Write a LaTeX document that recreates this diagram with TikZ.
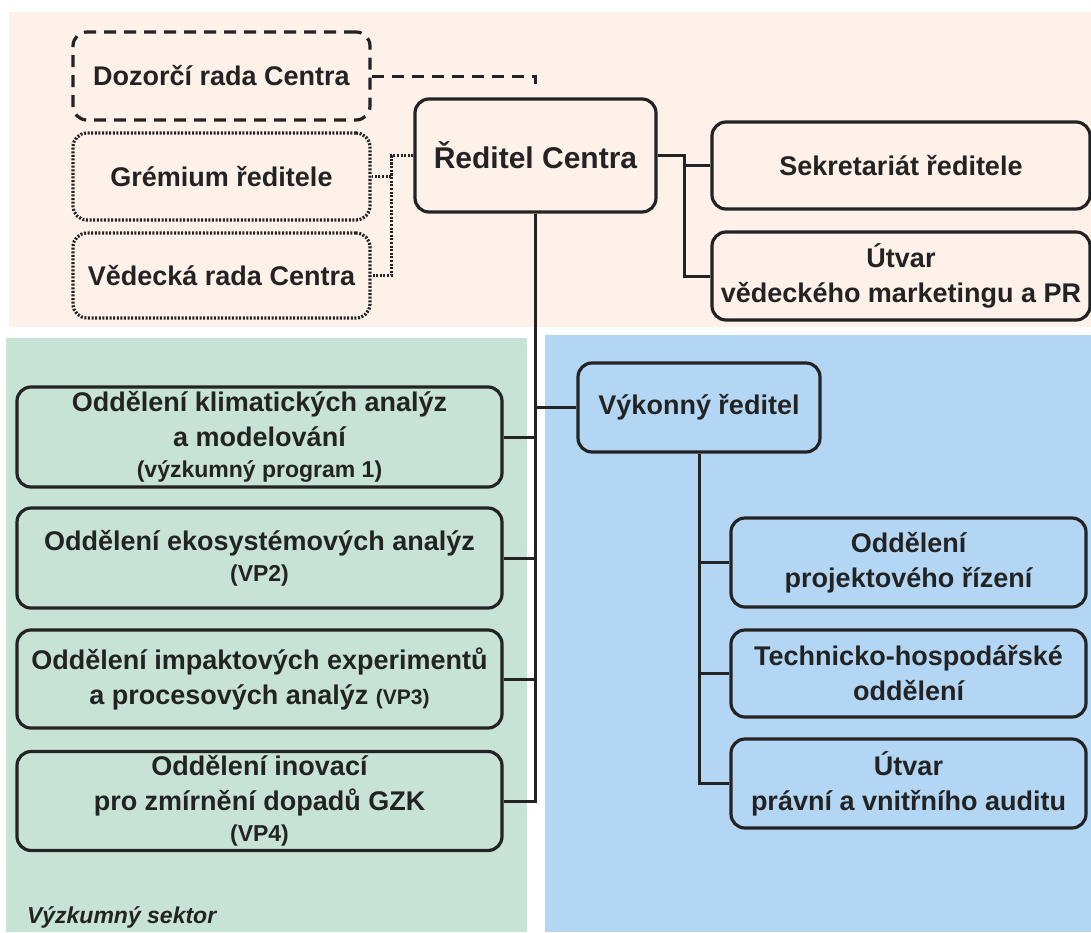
\documentclass[tikz,border=0pt]{standalone}
\usepackage{xcolor}
\usepackage{fontspec}
\setmainfont{Liberation Sans}
\usetikzlibrary{positioning,calc}

\definecolor{peach}{RGB}{253,241,233}
\definecolor{sage}{RGB}{198,227,214}
\definecolor{sky}{RGB}{179,214,245}
\definecolor{ink}{RGB}{35,35,35}

\newcommand{\subtxt}[1]{{\fontsize{11.5}{14}\selectfont #1}}

\tikzset{
  unit/.style={draw=ink, line width=1.6pt, rounded corners=7pt, align=center, text=ink,
    font=\bfseries\fontsize{13.5}{17.5}\selectfont, inner sep=2pt},
  boardbox/.style={unit, fill=peach, dash pattern=on 6pt off 4pt, minimum width=148.5pt},
  councilbox/.style={unit, fill=peach, dash pattern=on 1pt off 0.8pt, minimum width=148.5pt},
  topbox/.style={unit, fill=peach, minimum width=189pt},
  labbox/.style={unit, fill=sage, minimum width=242.5pt},
  officebox/.style={unit, fill=sky, minimum width=177.5pt},
  link/.style={draw=ink, line width=1.5pt}
}

\begin{document}
\begin{tikzpicture}[x=0.5pt, y=-0.5pt]
    \useasboundingbox (0,0) rectangle (1091,932);

    % Background sectors
    \fill[peach] (9,12) rectangle (1091,327);
    \fill[sage] (6,338) rectangle (527,932);
    \fill[sky] (545,335) rectangle (1091,932);

    % Leadership
    \node[boardbox, minimum height=44pt] (dozor) at (221.5,76) {Dozorčí rada Centra};
    \node[councilbox, minimum height=43.5pt] (gremium) at (221.5,176.5) {Grémium ředitele};
    \node[councilbox, minimum height=42.5pt] (vedecka) at (221.5,275.5) {Vědecká rada Centra};
    \node[unit, fill=peach, minimum width=120.5pt, minimum height=56.5pt,
      font=\bfseries\fontsize{15}{18}\selectfont] (reditel) at (535.5,155.5) {Ředitel Centra};
    \node[topbox, minimum height=43.5pt] (sekretariat) at (901,165.5) {Sekretariát ředitele};
    \node[topbox, minimum height=44pt] (marketing) at (901,276) {Útvar\\ vědeckého marketingu a PR};

    % Research sector
    \node[labbox, minimum height=50pt] (klima) at (259.5,437) {Oddělení klimatických analýz\\ a modelování\\[-2pt] \subtxt{(výzkumný program 1)}};
    \node[labbox, minimum height=50pt] (ekosys) at (259.5,558) {Oddělení ekosystémových analýz\\[-2pt] \subtxt{(VP2)}};
    \node[labbox, minimum height=49pt] (impakt) at (259.5,679) {Oddělení impaktových experimentů\\ a procesových analýz {\fontsize{10.5}{13}\selectfont(VP3)}};
    \node[labbox, minimum height=49pt] (inovace) at (259.5,801) {Oddělení inovací\\ pro zmírnění dopadů GZK\\[-2pt] \subtxt{(VP4)}};
    \node[anchor=west, text=ink, font=\bfseries\itshape\fontsize{11.5}{14}\selectfont] (sektor) at (20,917) {Výzkumný sektor};

    % Executive offices
    \node[unit, fill=sky, minimum width=121pt, minimum height=44.5pt] (vykonny) at (699,407.5) {Výkonný ředitel};
    \node[officebox, minimum height=44.5pt] (projekt) at (908.5,562.5) {Oddělení\\ projektového řízení};
    \node[officebox, minimum height=43.5pt] (technicko) at (908.5,673.5) {Technicko-hospodářské\\ oddělení};
    \node[officebox, minimum height=44.5pt] (pravni) at (908.5,783.5) {Útvar\\ právní a vnitřního auditu};

    % Connectors
    \draw[link, dash pattern=on 6pt off 4pt, shorten >=6pt] (dozor.east) -| (reditel.north);
    \coordinate (councilbus) at ($(reditel.west)+(-22,0)$);
    \draw[link, dash pattern=on 1pt off 0.8pt] (reditel.west) -- (councilbus) |- (gremium.east);
    \draw[link, dash pattern=on 1pt off 0.8pt] (councilbus) |- (vedecka.east);
    \coordinate (staffbus) at ($(reditel.east)+(27,0)$);
    \draw[link] (reditel.east) -- (staffbus) |- (sekretariat.west);
    \draw[link] (staffbus) |- (marketing.west);
    \draw[link] (reditel.south) |- (inovace.east);
    \foreach \unitname in {klima,ekosys,impakt}
        \draw[link] (reditel.south) |- (\unitname.east);
    \draw[link] (reditel.south) |- (vykonny.west);
    \draw[link] (vykonny.south) |- (pravni.west);
    \foreach \unitname in {projekt,technicko}
        \draw[link] (vykonny.south) |- (\unitname.west);
\end{tikzpicture}
\end{document}
